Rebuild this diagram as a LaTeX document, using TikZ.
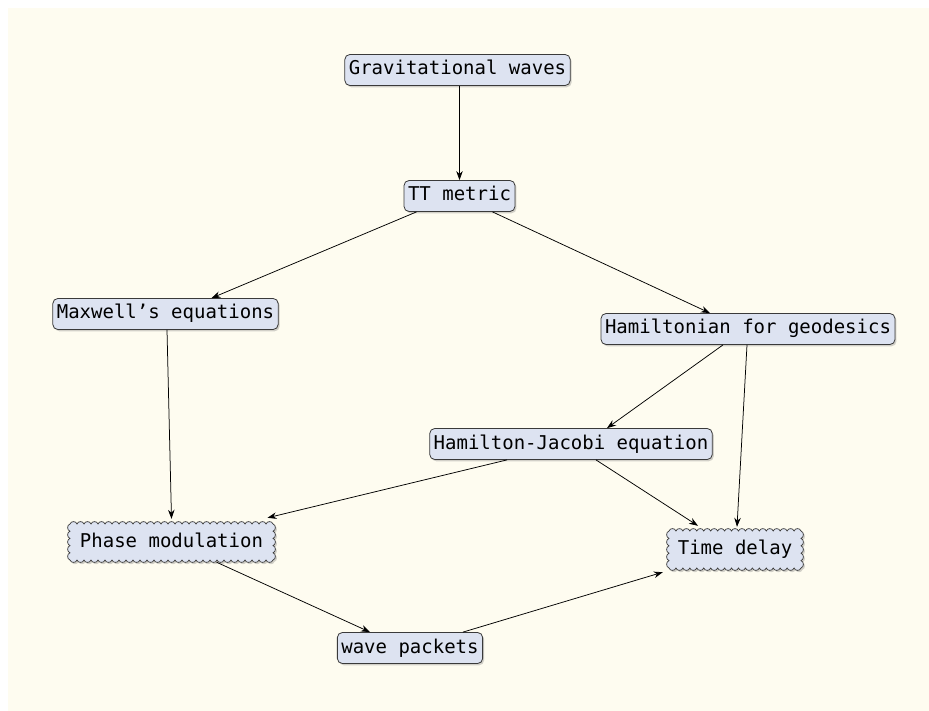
\documentclass[tikz,border=0pt]{standalone}
\usepackage{fontspec}
\setmonofont{DejaVu Sans Mono}
\usetikzlibrary{shadows,arrows.meta,backgrounds}
\definecolor{cream}{HTML}{FEFCF0}
\definecolor{boxfill}{HTML}{DDE3F1}
\definecolor{boxline}{HTML}{3A3A3A}
\tikzset{
  txt/.style={font=\ttfamily\fontsize{19}{23}\selectfont, text=black,
    text height=14pt, text depth=4pt},
  shad/.style={drop shadow={shadow xshift=1.5pt, shadow yshift=-1.8pt, opacity=0.35}},
  rbox/.style={txt, fill=boxfill, draw=boxline, line width=0.8pt, shad,
    rounded corners=5pt, minimum height=31pt, inner xsep=4pt, inner ysep=0pt},
  wavytext/.style={txt, inner sep=0pt},
  wavyborder/.style={fill=boxfill, draw=boxline, line width=0.7pt, shad},
  conn/.style={-{Stealth[length=9pt,width=6.5pt]}, line width=0.75pt, draw=black}
}
% #1 L, #2 T, #3 R, #4 B  (pixel coordinates, y down)
\newcommand\scallopbox[4]{%
  \pgfmathsetmacro\sbW{#3-#1}\pgfmathtruncatemacro\sbN{round(\sbW/7)}\pgfmathsetmacro\sbS{\sbW/\sbN}%
  \pgfmathsetmacro\sbH{#4-#2}\pgfmathtruncatemacro\sbM{max(2,round(\sbH/7))}\pgfmathsetmacro\sbT{\sbH/\sbM}%
  \path[wavyborder] (#1,#2)
    \foreach \i [evaluate=\i as \xa using {#1+(\i-1)*\sbS}, evaluate=\i as \xb using {#1+\i*\sbS}] in {1,...,\sbN}
      { .. controls (\xa+0.15*\sbS,#2-3.2) and (\xb-0.15*\sbS,#2-3.2) .. (\xb,#2) }
    \foreach \i [evaluate=\i as \ya using {#2+(\i-1)*\sbT}, evaluate=\i as \yb using {#2+\i*\sbT}] in {1,...,\sbM}
      { .. controls (#3+3.2,\ya+0.15*\sbT) and (#3+3.2,\yb-0.15*\sbT) .. (#3,\yb) }
    \foreach \i [evaluate=\i as \xa using {#3-(\i-1)*\sbS}, evaluate=\i as \xb using {#3-\i*\sbS}] in {1,...,\sbN}
      { .. controls (\xa-0.15*\sbS,#4+3.2) and (\xb+0.15*\sbS,#4+3.2) .. (\xb,#4) }
    \foreach \i [evaluate=\i as \ya using {#4-(\i-1)*\sbT}, evaluate=\i as \yb using {#4-\i*\sbT}] in {1,...,\sbM}
      { .. controls (#1-3.2,\ya-0.15*\sbT) and (#1-3.2,\yb+0.15*\sbT) .. (#1,\yb) }
    -- cycle;}
\begin{document}
\begin{tikzpicture}[x=1pt,y=-1pt]
\useasboundingbox (0,0) rectangle (929,711);
\node[rbox] (GW) at (457.5,70) {Gravitational waves};
\node[rbox] (TT) at (459.5,196) {TT metric};
\node[rbox] (MX) at (165.5,314) {Maxwell’s equations};
\node[rbox] (HG) at (748,329) {Hamiltonian for geodesics};
\node[rbox] (HJ) at (571,444) {Hamilton-Jacobi equation};
\node[wavytext, minimum width=207pt, minimum height=40pt] (PM) at (171.5,542) {Phase modulation};
\node[wavytext, minimum width=136pt, minimum height=41pt] (TD) at (735,549.5) {Time delay};
\node[rbox] (WP) at (410,648) {wave packets};
\begin{scope}[on background layer]
\fill[cream] (8,8) rectangle (929,711);
\scallopbox{70}{524}{273}{560}
\scallopbox{669}{531}{801}{568}
\end{scope}

\draw[conn] (GW.south -| TT.north) -- (TT.north);
\draw[conn] ([xshift=-43pt]TT.south) -- ([xshift=46pt]MX.north);
\draw[conn] ([xshift=33pt]TT.south) -- ([xshift=-38pt]HG.north);
\draw[conn] ([xshift=1.5pt]MX.south) -- ([yshift=3pt]PM.north);
\draw[conn] ([xshift=-25pt]HG.south) -- ([xshift=36pt]HJ.north);
\draw[conn] ([xshift=-1pt]HG.south) -- ([xshift=2pt,yshift=2pt]TD.north);
\draw[conn] ([xshift=-64pt]HJ.south) -- ([xshift=96pt,yshift=4pt]PM.north);
\draw[conn] ([xshift=25pt]HJ.south) -- ([xshift=-37pt,yshift=3pt]TD.north);
\draw[conn] ([xshift=45pt]PM.south) -- ([xshift=-40pt]WP.north);
\draw[conn] ([xshift=53pt]WP.north) -- ([xshift=-4pt,yshift=-2pt]TD.south west);
\end{tikzpicture}
\end{document}
